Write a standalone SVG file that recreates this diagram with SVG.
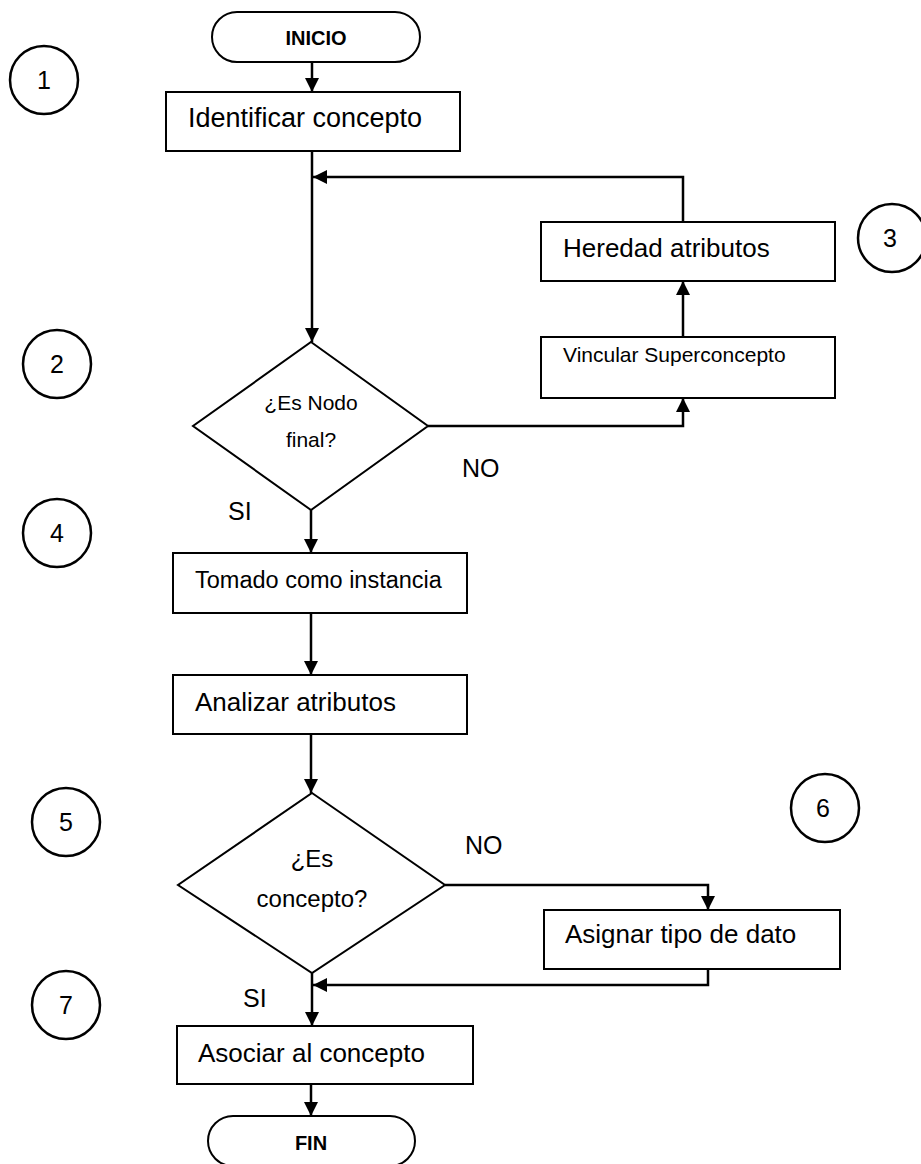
<svg xmlns="http://www.w3.org/2000/svg" width="921" height="1164" viewBox="0 0 921 1164">
  <style>
    .shape { fill: #ffffff; stroke: #000000; stroke-width: 2; }
    .wire { fill: none; stroke: #000000; stroke-width: 2.5; }
    .lbl { font-family: "Liberation Sans", Arial, sans-serif; fill: #000000; }
    .bold { font-weight: bold; font-size: 20px; text-anchor: middle; }
    .mid { text-anchor: middle; }
    .ring { fill: none; stroke: #000000; stroke-width: 2.5; }
  </style>
  <defs>
    <marker id="arrow" markerUnits="userSpaceOnUse" markerWidth="14" markerHeight="14" viewBox="0 0 14 14" refX="14" refY="7" orient="auto">
      <path d="M0,0 L14,7 L0,14 Z" fill="#000000"/>
    </marker>
  </defs>

  <rect width="921" height="1164" fill="#ffffff"/>

  <!-- connectors -->
  <g id="connectors">
    <line class="wire" x1="312" y1="62" x2="312" y2="92" marker-end="url(#arrow)"/>
    <line class="wire" x1="312" y1="151" x2="312" y2="342" marker-end="url(#arrow)"/>
    <polyline class="wire" points="683,222 683,177 313,177" marker-end="url(#arrow)"/>
    <line class="wire" x1="683" y1="337" x2="683" y2="281" marker-end="url(#arrow)"/>
    <polyline class="wire" points="428,426 683,426 683,398" marker-end="url(#arrow)"/>
    <line class="wire" x1="311" y1="510" x2="311" y2="553" marker-end="url(#arrow)"/>
    <line class="wire" x1="311" y1="613" x2="311" y2="675" marker-end="url(#arrow)"/>
    <line class="wire" x1="311" y1="734" x2="311" y2="793" marker-end="url(#arrow)"/>
    <polyline class="wire" points="445,885 708,885 708,910" marker-end="url(#arrow)"/>
    <polyline class="wire" points="708,969 708,985 313,985" marker-end="url(#arrow)"/>
    <line class="wire" x1="312" y1="973" x2="312" y2="1026" marker-end="url(#arrow)"/>
    <line class="wire" x1="311" y1="1084" x2="311" y2="1116" marker-end="url(#arrow)"/>
    <text class="lbl" x="462" y="477" font-size="25">NO</text>
    <text class="lbl" x="228" y="520" font-size="25">SI</text>
    <text class="lbl" x="465" y="854" font-size="25">NO</text>
    <text class="lbl" x="243" y="1007" font-size="25">SI</text>
  </g>

  <!-- start / end -->
  <g id="inicio">
    <rect class="shape" x="212" y="12" width="208" height="50" rx="25" ry="25"/>
    <text class="lbl bold" x="316" y="45">INICIO</text>
  </g>
  <g id="fin">
    <rect class="shape" x="208" y="1116" width="207" height="50" rx="25" ry="25"/>
    <text class="lbl bold" x="311" y="1150">FIN</text>
  </g>

  <!-- process steps -->
  <g id="identificar">
    <rect class="shape" x="166" y="92" width="294" height="59"/>
    <text class="lbl" x="188" y="127" font-size="27">Identificar concepto</text>
  </g>
  <g id="heredad">
    <rect class="shape" x="541" y="222" width="294" height="59"/>
    <text class="lbl" x="563" y="257" font-size="26">Heredad atributos</text>
  </g>
  <g id="vincular">
    <rect class="shape" x="541" y="337" width="294" height="61"/>
    <text class="lbl" x="563" y="362" font-size="21">Vincular Superconcepto</text>
  </g>
  <g id="nodo-final">
    <polygon class="shape" points="311,342 428,426 311,510 193,426"/>
    <text class="lbl mid" x="311" y="410" font-size="21">¿Es Nodo</text>
    <text class="lbl mid" x="311" y="447" font-size="21">final?</text>
  </g>
  <g id="tomado">
    <rect class="shape" x="173" y="553" width="294" height="60"/>
    <text class="lbl" x="195" y="588" font-size="23.5">Tomado como instancia</text>
  </g>
  <g id="analizar">
    <rect class="shape" x="173" y="675" width="294" height="59"/>
    <text class="lbl" x="195" y="711" font-size="26">Analizar atributos</text>
  </g>
  <g id="es-concepto">
    <polygon class="shape" points="312,793 445,885 312,973 178,885"/>
    <text class="lbl mid" x="312" y="867" font-size="24">¿Es</text>
    <text class="lbl mid" x="312" y="907" font-size="24">concepto?</text>
  </g>
  <g id="asignar">
    <rect class="shape" x="544" y="910" width="296" height="59"/>
    <text class="lbl" x="565" y="943" font-size="26">Asignar tipo de dato</text>
  </g>
  <g id="asociar">
    <rect class="shape" x="177" y="1026" width="296" height="58"/>
    <text class="lbl" x="198" y="1062" font-size="26">Asociar al concepto</text>
  </g>

  <!-- step numbers -->
  <g id="paso-1"><circle class="ring" cx="44" cy="80" r="34"/><text class="lbl mid" x="44" y="89" font-size="25">1</text></g>
  <g id="paso-2"><circle class="ring" cx="57" cy="364" r="34"/><text class="lbl mid" x="57" y="373" font-size="25">2</text></g>
  <g id="paso-3"><circle class="ring" cx="892" cy="238" r="34"/><text class="lbl mid" x="890" y="247" font-size="25">3</text></g>
  <g id="paso-4"><circle class="ring" cx="57" cy="533" r="34"/><text class="lbl mid" x="57" y="542" font-size="25">4</text></g>
  <g id="paso-5"><circle class="ring" cx="66" cy="822" r="34"/><text class="lbl mid" x="66" y="831" font-size="25">5</text></g>
  <g id="paso-6"><circle class="ring" cx="825" cy="808" r="34"/><text class="lbl mid" x="823" y="817" font-size="25">6</text></g>
  <g id="paso-7"><circle class="ring" cx="66" cy="1005" r="34"/><text class="lbl mid" x="66" y="1014" font-size="25">7</text></g>
</svg>
